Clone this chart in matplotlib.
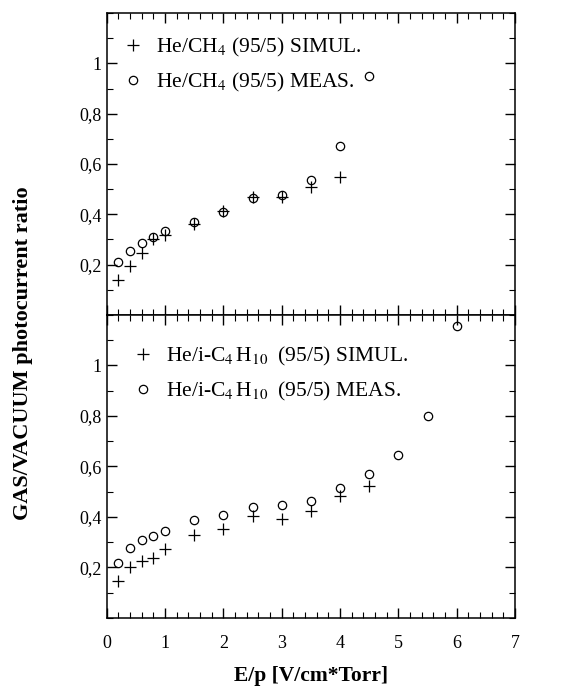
import matplotlib
matplotlib.use('Agg')
import matplotlib.pyplot as plt
from matplotlib.ticker import MultipleLocator, FixedLocator, FuncFormatter

plt.rcParams['font.family'] = ['Liberation Serif', 'DejaVu Serif']
plt.rcParams['mathtext.fontset'] = 'stix'

# top panel: He/CH4 (95/5)
x_ch4_sim = [0.2, 0.4, 0.6, 0.8, 1.0, 1.5, 2.0, 2.5, 3.0, 3.5, 4.0]
y_ch4_sim = [0.137, 0.193, 0.245, 0.30, 0.318, 0.36, 0.415, 0.47, 0.47, 0.51, 0.55]
x_ch4_meas = [0.2, 0.4, 0.6, 0.8, 1.0, 1.5, 2.0, 2.5, 3.0, 3.5, 4.0, 4.5]
y_ch4_meas = [0.21, 0.255, 0.285, 0.31, 0.333, 0.368, 0.41, 0.463, 0.475, 0.535, 0.672, 0.95]

# bottom panel: He/i-C4H10 (95/5)
x_ic4_sim = [0.2, 0.4, 0.6, 0.8, 1.0, 1.5, 2.0, 2.5, 3.0, 3.5, 4.0, 4.5]
y_ic4_sim = [0.146, 0.20, 0.225, 0.238, 0.273, 0.33, 0.352, 0.402, 0.39, 0.425, 0.481, 0.524]
x_ic4_meas = [0.2, 0.4, 0.6, 0.8, 1.0, 1.5, 2.0, 2.5, 3.0, 3.5, 4.0, 4.5, 5.0, 5.5, 6.0]
y_ic4_meas = [0.218, 0.277, 0.307, 0.323, 0.346, 0.387, 0.409, 0.44, 0.449, 0.464, 0.515, 0.571, 0.644, 0.80, 1.156]

yticks = [0.2, 0.4, 0.6, 0.8, 1.0]
xticks = [0, 1, 2, 3, 4, 5, 6, 7]

def comma(v, pos):
    if abs(v - round(v)) < 1e-9:
        return '%d' % round(v)
    return ('%g' % v).replace('.', ',')

fig = plt.figure(figsize=(5.71, 6.92), dpi=100)
ax1 = fig.add_axes([0.187, 0.545, 0.715, 0.436])
ax2 = fig.add_axes([0.187, 0.107, 0.715, 0.438], sharex=ax1)

ax1.plot(x_ch4_sim, y_ch4_sim, '+', color='black', ms=8, mew=0.9, ls='none',
         label='He/CH$_4$ (95/5) SIMUL.')
ax1.plot(x_ch4_meas, y_ch4_meas, 'o', mfc='none', mec='black', ms=6, mew=0.9, ls='none',
         label='He/CH$_4$ (95/5) MEAS.')
ax2.plot(x_ic4_sim, y_ic4_sim, '+', color='black', ms=8, mew=0.9, ls='none',
         label='He/i-C$_4\\,$H$_{10}\\;$ (95/5) SIMUL.')
ax2.plot(x_ic4_meas, y_ic4_meas, 'o', mfc='none', mec='black', ms=6, mew=0.9, ls='none',
         label='He/i-C$_4\\,$H$_{10}\\;$ (95/5) MEAS.')

for ax in (ax1, ax2):
    ax.set_xlim(0, 7)
    ax.set_ylim(0, 1.2)
    ax.yaxis.set_major_locator(FixedLocator(yticks))
    ax.yaxis.set_major_formatter(FuncFormatter(comma))
    ax.yaxis.set_minor_locator(MultipleLocator(0.1))
    ax.xaxis.set_major_locator(FixedLocator(xticks))
    ax.xaxis.set_minor_locator(MultipleLocator(0.2))
    ax.tick_params(which='both', direction='in', top=True, right=True, labelsize=13)
    ax.tick_params(which='major', length=7, width=1)
    ax.tick_params(which='minor', length=4, width=0.8)
    for s in ax.spines.values():
        s.set_linewidth(1.1)

ax1.legend(loc='upper left', bbox_to_anchor=(0.0, 0.975), frameon=False, fontsize=15.5,
           handletextpad=0.6, borderaxespad=0.3, labelspacing=0.55, handlelength=1.0)
ax2.legend(loc='upper left', bbox_to_anchor=(0.025, 0.95), frameon=False, fontsize=15.5,
           handletextpad=0.6, borderaxespad=0.3, labelspacing=0.55, handlelength=1.0)

ax1.tick_params(labelbottom=False)
ax2.xaxis.set_major_formatter(FuncFormatter(comma))
ax2.tick_params(axis='x', pad=12)

ax2.set_xlabel('E/p [V/cm*Torr]', fontsize=15.5, fontweight='bold', labelpad=10)
fig.text(0.04, 0.49, 'GAS/VACUUM photocurrent ratio', rotation=90, ha='center', va='center',
         fontsize=16, fontweight='bold')

fig.savefig('out.png', dpi=100)
